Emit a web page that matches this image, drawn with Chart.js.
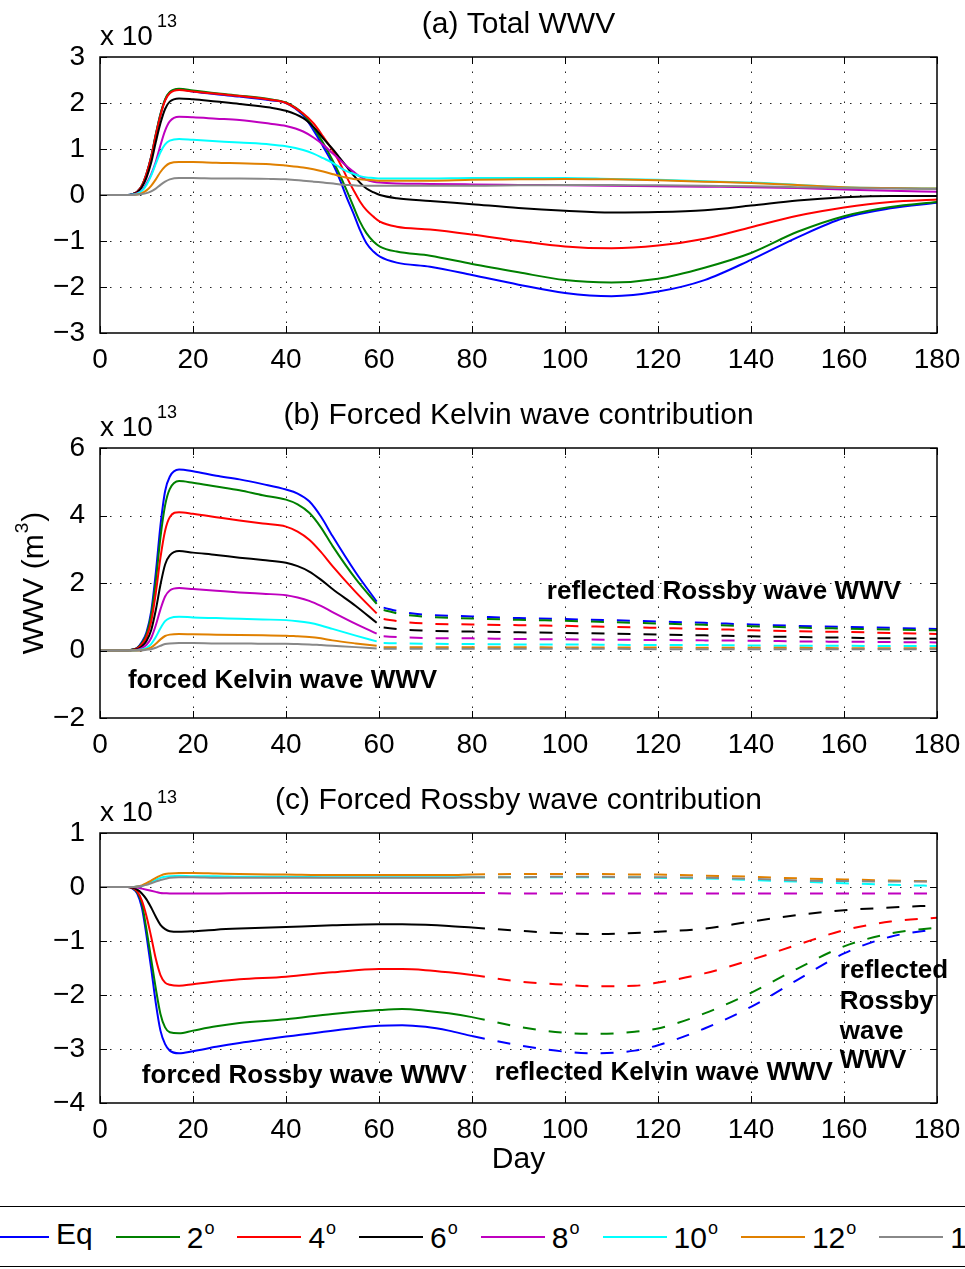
<!DOCTYPE html>
<html>
<head>
<meta charset="utf-8">
<script src="https://cdn.jsdelivr.net/npm/chart.js@4.4.0/dist/chart.umd.min.js"></script>
<style>
  html, body { margin: 0; padding: 0; background: #fff; }
  #fig { position: relative; width: 965px; height: 1269px; overflow: hidden; background: #fff;
         font-family: "Liberation Sans", Arial, Helvetica, sans-serif; }
  canvas { position: absolute; left: 0; }
  #legendBox { position: absolute; left: -5px; width: 975px; top: 1206px; height: 59px;
               border-top: 1.5px solid #000; border-bottom: 1.5px solid #000; }
  #legend { position: absolute; left: -15px; top: 1207px; height: 60px; display: flex;
            align-items: center; white-space: nowrap; }
  .item { display: flex; align-items: center; margin-right: 23px; }
  .sw { width: 64px; height: 2px; margin-right: 7px; }
  .lb { font-size: 30px; line-height: 30px; margin-top: -6px; }
  .lb sup { font-size: 18px; position: relative; top: -3px; margin-left: 1px; }
</style>
</head>
<body>
<div id="fig">
  <canvas id="panelA"></canvas>
  <canvas id="panelB"></canvas>
  <canvas id="panelC"></canvas>
  <div id="legendBox"></div>
  <div id="legend"></div>
</div>
<script>
// values are in units of 1e13 m^3
const seriesNames = ['Eq', '2', '4', '6', '8', '10', '12', '14'];
const seriesColors = ['#0000ff', '#008000', '#ff0000', '#000000', '#bf00bf', '#00ffff', '#e08000', '#888888'];

// (a) total WWV
const daysA = [0, 6, 7, 8, 9, 10, 11, 12, 13, 14, 15, 17, 20, 25, 30, 36.6, 40, 43.7, 45.9, 48,
  50.2, 51.6, 53, 54.5, 55.9, 57.3, 58.8, 60.2, 63.8, 71, 80, 90, 100, 110, 120, 130, 140, 150, 160, 170, 180];
const totEq = [0, 0, 0.02, 0.07, 0.2, 0.46, 0.83, 1.31, 1.75, 2.07, 2.23, 2.3, 2.25, 2.19, 2.14, 2.06, 2.0, 1.73, 1.41, 1.05,
  0.65, 0.33, -0.04, -0.4, -0.76, -1.05, -1.23, -1.34, -1.47, -1.56, -1.74, -1.95, -2.13, -2.2, -2.1, -1.85, -1.41, -0.92, -0.5, -0.29, -0.17];
const tot2 = [0, 0, 0.02, 0.07, 0.2, 0.46, 0.83, 1.32, 1.76, 2.08, 2.24, 2.31, 2.27, 2.21, 2.16, 2.08, 2.01, 1.76, 1.47, 1.13,
  0.72, 0.43, 0.11, -0.25, -0.58, -0.83, -1.01, -1.12, -1.23, -1.32, -1.5, -1.68, -1.85, -1.9, -1.82, -1.58, -1.26, -0.8, -0.46, -0.26, -0.15];
const tot4 = [0, 0, 0.02, 0.07, 0.2, 0.46, 0.82, 1.3, 1.73, 2.05, 2.21, 2.28, 2.25, 2.2, 2.15, 2.07, 2.0, 1.77, 1.56, 1.27,
  0.94, 0.69, 0.4, 0.11, -0.14, -0.33, -0.47, -0.58, -0.69, -0.75, -0.86, -1.0, -1.12, -1.16, -1.1, -0.95, -0.7, -0.45, -0.27, -0.15, -0.1];
const tot6 = [0, 0, 0.02, 0.06, 0.17, 0.38, 0.7, 1.15, 1.56, 1.87, 2.03, 2.1, 2.08, 2.03, 1.98, 1.9, 1.83, 1.67, 1.48, 1.23,
  0.98, 0.8, 0.62, 0.43, 0.27, 0.14, 0.06, 0, -0.07, -0.13, -0.2, -0.28, -0.34, -0.38, -0.37, -0.33, -0.23, -0.12, -0.05, -0.02, -0.02];
const tot8 = [0, 0, 0.01, 0.04, 0.1, 0.25, 0.45, 0.72, 1.08, 1.4, 1.6, 1.7, 1.69, 1.66, 1.63, 1.55, 1.5, 1.38, 1.25, 1.09,
  0.89, 0.76, 0.63, 0.51, 0.4, 0.33, 0.29, 0.27, 0.25, 0.24, 0.23, 0.22, 0.21, 0.2, 0.19, 0.18, 0.17, 0.15, 0.12, 0.09, 0.07];
const tot10 = [0, 0, 0.01, 0.03, 0.09, 0.22, 0.42, 0.68, 0.93, 1.1, 1.18, 1.22, 1.2, 1.17, 1.14, 1.1, 1.06, 0.98, 0.9, 0.8,
  0.69, 0.6, 0.52, 0.46, 0.41, 0.38, 0.37, 0.36, 0.36, 0.36, 0.37, 0.37, 0.37, 0.35, 0.33, 0.3, 0.27, 0.22, 0.17, 0.15, 0.14];
const tot12 = [0, 0, 0, 0.01, 0.04, 0.1, 0.2, 0.34, 0.5, 0.62, 0.69, 0.72, 0.72, 0.7, 0.69, 0.67, 0.64, 0.6, 0.56, 0.51,
  0.45, 0.41, 0.38, 0.35, 0.34, 0.33, 0.32, 0.31, 0.31, 0.31, 0.33, 0.34, 0.35, 0.34, 0.32, 0.29, 0.26, 0.22, 0.17, 0.15, 0.14];
const tot14 = [0, 0, 0, 0.01, 0.02, 0.04, 0.08, 0.14, 0.22, 0.29, 0.34, 0.37, 0.37, 0.36, 0.36, 0.35, 0.34, 0.31, 0.29, 0.27,
  0.25, 0.23, 0.22, 0.21, 0.2, 0.2, 0.2, 0.2, 0.2, 0.2, 0.2, 0.21, 0.22, 0.22, 0.21, 0.2, 0.19, 0.17, 0.15, 0.14, 0.13];

// (b) forced Kelvin wave (solid) then reflected Rossby wave (dashed)
const daysB = [0, 6, 7, 8, 9, 10, 11, 12, 13, 14, 15, 17, 20, 25, 30, 35, 40, 42.5, 45, 47.5, 50, 55,
  59.5, 60.3, 61, 65, 70, 80, 90, 100, 110, 120, 130, 140, 150, 160, 170, 180];
const kelEq = [0, 0, 0.03, 0.08, 0.25, 0.54, 1.15, 2.3, 3.7, 4.72, 5.15, 5.36, 5.31, 5.18, 5.07, 4.93, 4.77, 4.65, 4.42, 3.97, 3.39, 2.31,
  1.45, null, 1.27, 1.14, 1.06, 1.01, 0.96, 0.93, 0.9, 0.86, 0.82, 0.77, 0.73, 0.7, 0.67, 0.64];
const kel2 = [0, 0, 0.03, 0.07, 0.22, 0.48, 1.05, 2.05, 3.35, 4.3, 4.78, 5.02, 4.97, 4.86, 4.75, 4.6, 4.47, 4.33, 4.08, 3.65, 3.1, 2.12,
  1.38, null, 1.2, 1.07, 1.0, 0.95, 0.91, 0.88, 0.84, 0.8, 0.76, 0.72, 0.68, 0.65, 0.62, 0.6];
const kel4 = [0, 0, 0.02, 0.06, 0.18, 0.4, 0.85, 1.7, 2.75, 3.55, 3.95, 4.1, 4.05, 3.95, 3.85, 3.76, 3.67, 3.52, 3.28, 2.92, 2.5, 1.73,
  1.1, null, 0.93, 0.85, 0.8, 0.77, 0.75, 0.73, 0.7, 0.67, 0.64, 0.6, 0.57, 0.55, 0.52, 0.49];
const kel6 = [0, 0, 0.02, 0.04, 0.12, 0.28, 0.6, 1.2, 1.95, 2.55, 2.82, 2.95, 2.9, 2.83, 2.75, 2.68, 2.6, 2.5, 2.34, 2.1, 1.82, 1.32,
  0.82, null, 0.68, 0.62, 0.59, 0.56, 0.54, 0.52, 0.5, 0.47, 0.45, 0.42, 0.4, 0.38, 0.36, 0.35];
const kel8 = [0, 0, 0.01, 0.02, 0.07, 0.17, 0.37, 0.75, 1.22, 1.6, 1.78, 1.85, 1.82, 1.77, 1.72, 1.68, 1.64, 1.57, 1.47, 1.32, 1.14, 0.79,
  0.5, null, 0.42, 0.39, 0.37, 0.36, 0.34, 0.33, 0.32, 0.31, 0.3, 0.29, 0.27, 0.26, 0.25, 0.24];
const kel10 = [0, 0, 0, 0.01, 0.03, 0.08, 0.19, 0.4, 0.66, 0.87, 0.96, 1.0, 0.98, 0.96, 0.94, 0.92, 0.9, 0.87, 0.82, 0.74, 0.64, 0.44,
  0.27, null, 0.22, 0.21, 0.2, 0.19, 0.18, 0.18, 0.17, 0.16, 0.16, 0.15, 0.14, 0.14, 0.13, 0.13];
const kel12 = [0, 0, 0, 0, 0.01, 0.04, 0.09, 0.2, 0.33, 0.43, 0.47, 0.49, 0.48, 0.47, 0.46, 0.45, 0.44, 0.42, 0.4, 0.36, 0.3, 0.21,
  0.14, null, 0.1, 0.1, 0.1, 0.1, 0.1, 0.09, 0.09, 0.09, 0.08, 0.08, 0.08, 0.07, 0.07, 0.07];
const kel14 = [0, 0, 0, 0, 0, 0.02, 0.04, 0.08, 0.14, 0.19, 0.21, 0.22, 0.22, 0.21, 0.21, 0.2, 0.2, 0.19, 0.18, 0.16, 0.14, 0.1,
  0.06, null, 0.05, 0.05, 0.05, 0.05, 0.05, 0.05, 0.05, 0.04, 0.04, 0.04, 0.04, 0.04, 0.04, 0.04];

// (c) forced Rossby wave (solid) then reflected Kelvin wave (dashed)
const daysC = [0, 6, 7, 8, 9, 10, 11, 12, 13, 14, 15, 17, 20, 25, 30, 40, 50, 60, 65, 70,
  75, 80, 90, 100, 107, 115, 120, 130, 140, 150, 160, 170, 180];
const rosEq = [0, 0, -0.03, -0.12, -0.38, -0.9, -1.5, -2.15, -2.66, -2.91, -3.03, -3.08, -3.04, -2.96, -2.89, -2.77, -2.66, -2.57, -2.56, -2.59,
  -2.66, -2.76, -2.93, -3.05, -3.08, -3.03, -2.93, -2.62, -2.22, -1.72, -1.23, -0.92, -0.78];
const ros2 = [0, 0, -0.02, -0.1, -0.3, -0.79, -1.33, -1.88, -2.35, -2.6, -2.69, -2.71, -2.66, -2.58, -2.52, -2.45, -2.35, -2.28, -2.26, -2.29,
  -2.34, -2.41, -2.59, -2.7, -2.72, -2.68, -2.62, -2.34, -1.96, -1.51, -1.1, -0.86, -0.75];
const ros4 = [0, 0, -0.02, -0.08, -0.25, -0.54, -0.92, -1.33, -1.63, -1.77, -1.81, -1.83, -1.8, -1.75, -1.71, -1.66, -1.58, -1.52, -1.52, -1.54,
  -1.58, -1.63, -1.75, -1.81, -1.84, -1.83, -1.77, -1.6, -1.35, -1.07, -0.8, -0.64, -0.57];
const ros6 = [0, 0, -0.01, -0.05, -0.12, -0.23, -0.38, -0.55, -0.7, -0.78, -0.82, -0.83, -0.82, -0.79, -0.77, -0.74, -0.71, -0.69, -0.69, -0.7,
  -0.72, -0.75, -0.81, -0.86, -0.87, -0.85, -0.83, -0.77, -0.64, -0.52, -0.43, -0.38, -0.34];
const ros8 = [0, 0, 0, -0.01, -0.03, -0.05, -0.07, -0.09, -0.11, -0.115, -0.12, -0.12, -0.12, -0.12, -0.115, -0.11, -0.11, -0.11, -0.11, -0.11,
  -0.11, -0.11, -0.12, -0.12, -0.12, -0.12, -0.12, -0.12, -0.12, -0.12, -0.12, -0.12, -0.12];
const ros10 = [0, 0, 0, 0.01, 0.02, 0.05, 0.09, 0.13, 0.17, 0.19, 0.2, 0.21, 0.2, 0.2, 0.19, 0.19, 0.18, 0.18, 0.18, 0.18,
  0.18, 0.18, 0.18, 0.18, 0.18, 0.18, 0.17, 0.16, 0.13, 0.1, 0.07, 0.04, 0.02];
const ros12 = [0, 0, 0, 0.01, 0.03, 0.07, 0.12, 0.17, 0.21, 0.24, 0.25, 0.26, 0.26, 0.25, 0.24, 0.23, 0.22, 0.22, 0.22, 0.22,
  0.22, 0.23, 0.24, 0.24, 0.24, 0.23, 0.23, 0.21, 0.19, 0.16, 0.14, 0.12, 0.1];
const ros14 = [0, 0, 0, 0.01, 0.02, 0.04, 0.07, 0.1, 0.13, 0.15, 0.17, 0.18, 0.18, 0.17, 0.17, 0.17, 0.17, 0.17, 0.17, 0.17,
  0.17, 0.18, 0.18, 0.19, 0.19, 0.18, 0.18, 0.17, 0.15, 0.12, 0.11, 0.1, 0.1];

const FONT = '"Liberation Sans", Arial, Helvetica, sans-serif';
Chart.defaults.font.family = FONT;
Chart.defaults.color = '#000';

function minus(v) {
  return v < 0 ? '\u2212' + Math.abs(v) : String(v);
}

// grid, box, inward ticks and the panel texts (MATLAB look)
const panelFrame = {
  id: 'panelFrame',
  beforeDatasetsDraw(chart) {
    const { ctx, chartArea: a, scales: { x, y } } = chart;
    ctx.save();
    ctx.strokeStyle = '#222';
    ctx.lineWidth = 1;
    ctx.setLineDash([1.5, 8.5]);
    x.ticks.forEach(t => {
      const px = Math.round(x.getPixelForValue(t.value)) + 0.5;
      if (px < a.left + 2 || px > a.right - 2) return;
      ctx.beginPath(); ctx.moveTo(px, a.bottom); ctx.lineTo(px, a.top); ctx.stroke();
    });
    y.ticks.forEach(t => {
      const py = Math.round(y.getPixelForValue(t.value)) + 0.5;
      if (py < a.top + 2 || py > a.bottom - 2) return;
      ctx.beginPath(); ctx.moveTo(a.left, py); ctx.lineTo(a.right, py); ctx.stroke();
    });
    ctx.restore();
  },
  afterDatasetsDraw(chart) {
    const { ctx, chartArea: a, scales: { x, y } } = chart;
    const tl = 7;
    ctx.save();
    ctx.strokeStyle = '#000';
    ctx.lineWidth = 1;
    ctx.beginPath();
    x.ticks.forEach(t => {
      const px = Math.round(x.getPixelForValue(t.value)) + 0.5;
      ctx.moveTo(px, a.bottom); ctx.lineTo(px, a.bottom - tl);
      ctx.moveTo(px, a.top); ctx.lineTo(px, a.top + tl);
    });
    y.ticks.forEach(t => {
      const py = Math.round(y.getPixelForValue(t.value)) + 0.5;
      ctx.moveTo(a.left, py); ctx.lineTo(a.left + tl, py);
      ctx.moveTo(a.right, py); ctx.lineTo(a.right - tl, py);
    });
    ctx.stroke();
    ctx.lineWidth = 1.5;
    ctx.strokeRect(a.left, a.top, a.right - a.left, a.bottom - a.top);
    ctx.restore();
  },
  afterDraw(chart, args, opts) {
    const { ctx, chartArea: a, scales: { x, y } } = chart;
    const cx = (a.left + a.right) / 2;
    ctx.save();
    ctx.fillStyle = '#000';
    ctx.textBaseline = 'alphabetic';

    ctx.font = '30px ' + FONT;
    ctx.textAlign = 'center';
    ctx.fillText(opts.title, cx, a.top - 24.5);

    ctx.textAlign = 'left';
    ctx.font = '28px ' + FONT;
    ctx.fillText('x 10', a.left, a.top - 12);
    const w = ctx.measureText('x 10').width;
    ctx.font = '18px ' + FONT;
    ctx.fillText('13', a.left + w + 4, a.top - 30);

    if (opts.ylabel) {
      ctx.save();
      ctx.translate(43, (a.top + a.bottom) / 2);
      ctx.rotate(-Math.PI / 2);
      ctx.font = '30px ' + FONT;
      const w1 = ctx.measureText('WWV (m').width;
      ctx.font = '19px ' + FONT;
      const w2 = ctx.measureText('3').width;
      ctx.font = '30px ' + FONT;
      const w3 = ctx.measureText(')').width;
      let sx = -(w1 + w2 + w3 + 2) / 2;
      ctx.fillText('WWV (m', sx, 0);
      ctx.font = '19px ' + FONT;
      ctx.fillText('3', sx + w1 + 1, -15);
      ctx.font = '30px ' + FONT;
      ctx.fillText(')', sx + w1 + w2 + 2, 0);
      ctx.restore();
    }
    if (opts.xlabel) {
      ctx.font = '30px ' + FONT;
      ctx.textAlign = 'center';
      ctx.fillText(opts.xlabel, cx, a.bottom + 65);
    }

    ctx.font = 'bold 26px ' + FONT;
    ctx.textAlign = 'left';
    ctx.textBaseline = 'middle';
    (opts.notes || []).forEach(n => {
      ctx.fillText(n.text, x.getPixelForValue(n.day), y.getPixelForValue(n.value));
    });
    ctx.restore();
  }
};

function makePanel(id, top, height, cfg) {
  const cv = document.getElementById(id);
  cv.width = 965;
  cv.height = height;
  cv.style.top = top + 'px';
  const datasets = cfg.series.map((vals, i) => ({
    data: cfg.days.map((d, k) => ({ x: d, y: vals[k] })),
    borderColor: seriesColors[i],
    borderWidth: 2,
    pointRadius: 0,
    fill: false,
    cubicInterpolationMode: 'monotone',
    spanGaps: false,
    order: cfg.series.length - i,
    segment: {
      borderDash: c => (c.p0.parsed.x >= cfg.dashFrom ? [13, 13] : undefined)
    }
  }));
  return new Chart(cv, {
    type: 'line',
    data: { datasets },
    options: {
      responsive: false,
      animation: false,
      events: [],
      layout: { padding: { top: cfg.areaTop - top, right: 28, left: 0, bottom: 0 } },
      scales: {
        x: {
          type: 'linear', min: 0, max: 180,
          grid: { display: false }, border: { display: false },
          ticks: { stepSize: 20, padding: 2, font: { size: 28 }, color: '#000', maxRotation: 0, autoSkip: false },
          afterFit: s => { s.height = top + height - cfg.areaBottom; s.paddingLeft = 0; s.paddingRight = 0; }
        },
        y: {
          type: 'linear', min: cfg.yMin, max: cfg.yMax,
          grid: { display: false }, border: { display: false },
          ticks: { stepSize: cfg.yStep, padding: 7, font: { size: 28 }, color: '#000', callback: v => minus(v) },
          afterFit: s => { s.width = 100; s.paddingTop = 0; s.paddingBottom = 0; }
        }
      },
      plugins: {
        legend: { display: false },
        tooltip: { enabled: false },
        panelFrame: cfg.text
      }
    },
    plugins: [panelFrame]
  });
}

makePanel('panelA', 0, 385, {
  days: daysA,
  series: [totEq, tot2, tot4, tot6, tot8, tot10, tot12, tot14],
  areaTop: 57, areaBottom: 333, yMin: -3, yMax: 3, yStep: 1, dashFrom: Infinity,
  text: { title: '(a) Total WWV', notes: [] }
});

makePanel('panelB', 385, 385, {
  days: daysB,
  series: [kelEq, kel2, kel4, kel6, kel8, kel10, kel12, kel14],
  areaTop: 448, areaBottom: 718, yMin: -2, yMax: 6, yStep: 2, dashFrom: 60,
  text: {
    title: '(b) Forced Kelvin wave contribution',
    ylabel: true,
    notes: [
      { text: 'forced Kelvin wave WWV', day: 6.0, value: -0.9 },
      { text: 'reflected Rossby wave WWV', day: 96.1, value: 1.73 }
    ]
  }
});

makePanel('panelC', 770, 425, {
  days: daysC,
  series: [rosEq, ros2, ros4, ros6, ros8, ros10, ros12, ros14],
  areaTop: 833, areaBottom: 1103, yMin: -4, yMax: 1, yStep: 1, dashFrom: 80,
  text: {
    title: '(c) Forced Rossby wave contribution',
    xlabel: 'Day',
    notes: [
      { text: 'forced Rossby wave WWV', day: 9.0, value: -3.5 },
      { text: 'reflected Kelvin wave WWV', day: 84.9, value: -3.44 },
      { text: 'reflected', day: 159.1, value: -1.56 },
      { text: 'Rossby', day: 159.1, value: -2.13 },
      { text: 'wave', day: 159.1, value: -2.69 },
      { text: 'WWV', day: 159.1, value: -3.22 }
    ]
  }
});

// legend strip along the bottom
const legend = document.getElementById('legend');
seriesNames.forEach((name, i) => {
  const item = document.createElement('div');
  item.className = 'item';
  const sw = document.createElement('span');
  sw.className = 'sw';
  sw.style.background = seriesColors[i];
  const lb = document.createElement('span');
  lb.className = 'lb';
  lb.innerHTML = name === 'Eq' ? name : name + '<sup>o</sup>';
  item.appendChild(sw);
  item.appendChild(lb);
  legend.appendChild(item);
});
</script>
</body>
</html>
